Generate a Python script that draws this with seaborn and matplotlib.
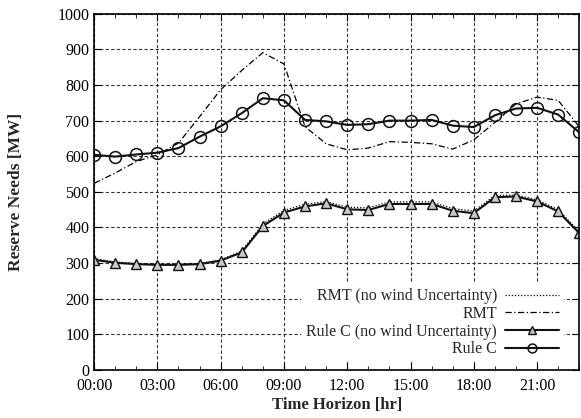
import numpy as np
import pandas as pd
import matplotlib
matplotlib.use('Agg')
import matplotlib.pyplot as plt
from matplotlib.ticker import MultipleLocator, FuncFormatter
import seaborn as sns

# Stunde 0..23
HOURS = list(range(24))

RMT_NO_WIND = [313, 303, 299, 297, 297, 299, 309, 334, 410, 448, 465, 473, 457, 455,
               472, 472, 472, 453, 446, 490, 491, 478, 450, 388]
RMT = [524, 553, 585, 604, 637, 711, 787, 841, 891, 859, 683, 635, 618, 623,
       641, 639, 635, 620, 646, 695, 747, 766, 757, 683]
RULE_C_NO_WIND = [309, 301, 297, 295, 295, 297, 307, 330, 404, 442, 459, 468, 451, 449,
                  466, 466, 466, 447, 440, 485, 487, 473, 445, 384]
RULE_C = [604, 599, 605, 610, 623, 655, 684, 721, 763, 757, 702, 698, 688, 690,
          700, 700, 702, 686, 682, 715, 734, 736, 717, 667]

LABELS = ['RMT (no wind Uncertainty)', 'RMT', 'Rule C (no wind Uncertainty)', 'Rule C']

sns.set_style('ticks')
plt.rcParams['font.family'] = ['Liberation Serif', 'DejaVu Serif']

df = pd.DataFrame({'hour': HOURS, 'rmt_nw': RMT_NO_WIND, 'rmt': RMT,
                   'rc_nw': RULE_C_NO_WIND, 'rc': RULE_C})

fig = plt.figure(figsize=(5.81, 4.18), dpi=100)
ax = fig.add_axes([0.162, 0.115, 0.835, 0.852])

sns.lineplot(data=df, x='hour', y='rmt_nw', ax=ax, color='black', lw=0.9,
             linestyle=(0, (1, 1.5)), label=LABELS[0])
sns.lineplot(data=df, x='hour', y='rmt', ax=ax, color='black', lw=0.9,
             linestyle=(0, (5, 2, 1, 2)), label=LABELS[1])
sns.lineplot(data=df, x='hour', y='rc_nw', ax=ax, color='#111111', lw=1.5,
             marker='^', markersize=7, markerfacecolor='#c8c8c8',
             markeredgecolor='#111111', markeredgewidth=1.0, label=LABELS[2])
sns.lineplot(data=df, x='hour', y='rc', ax=ax, color='#111111', lw=1.5,
             marker='o', markersize=8.5, markerfacecolor='none',
             markeredgecolor='#111111', markeredgewidth=1.1, label=LABELS[3])

ax.set_xlim(0, 23)
ax.set_ylim(0, 1000)
ax.xaxis.set_major_locator(MultipleLocator(3))
ax.xaxis.set_minor_locator(MultipleLocator(1))
ax.yaxis.set_major_locator(MultipleLocator(100))
ax.xaxis.set_major_formatter(FuncFormatter(lambda v, p: f'{int(v):02d}:00'))
ax.tick_params(which='both', direction='in', top=True, right=True,
               labelsize=11.5, colors='black')
ax.tick_params(axis='x', which='major', pad=6)
ax.tick_params(which='major', length=5)
ax.tick_params(which='minor', length=3)
ax.grid(True, which='major', color='#333333', linestyle=(0, (3, 2)), lw=0.8)
for s in ax.spines.values():
    s.set_linewidth(1.2)
    s.set_color('black')

ax.set_xlabel('Time Horizon [hr]', fontsize=12, fontweight='bold', labelpad=2)
ax.set_ylabel('Reserve Needs [MW]', fontsize=12.5, fontweight='bold', labelpad=24)

leg = ax.legend(loc='lower right', bbox_to_anchor=(0.985, 0.0), markerfirst=False,
                frameon=True, fancybox=False, framealpha=1, edgecolor='none',
                facecolor='white', fontsize=11.5, handlelength=3.4, handletextpad=0.5,
                labelspacing=0.1, borderpad=0.3, markerscale=0.75)
for t in leg.get_texts():
    t.set_ha('right')

fig.savefig('out.png', dpi=100)
